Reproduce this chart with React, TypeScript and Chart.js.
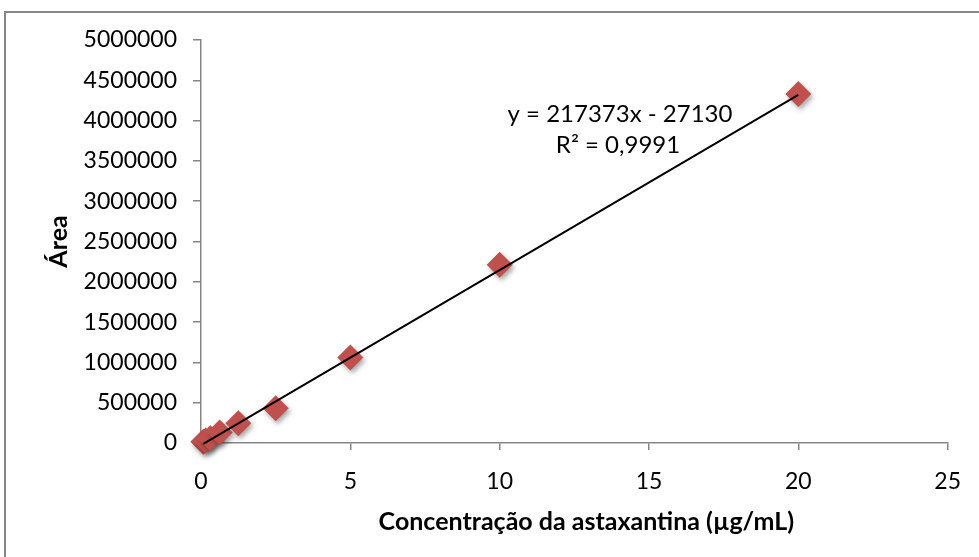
import React, { useEffect, useRef } from "react";
import { Chart, registerables } from "chart.js";

Chart.register(...registerables);

// Data
const concentrations = [0.078, 0.156, 0.3125, 0.625, 1.25, 2.5, 5, 10, 20];
const areas = [15000, 30000, 60000, 130000, 245000, 430000, 1060000, 2210000, 4330000];
const trendSlope = 217373;
const trendIntercept = -27130;
const equationLines = ["y = 217373x - 27130", "R² = 0,9991"];
const xTitle = "Concentração da astaxantina (µg/mL)";
const yTitle = "Área";

const FONT = "Lato, 'Open Sans', sans-serif";

export default function App() {
  const ref = useRef<HTMLCanvasElement | null>(null);

  useEffect(() => {
    document.body.style.margin = "0";
    const canvas = ref.current;
    if (!canvas) return;

    const xMin = concentrations[0];
    const xMax = concentrations[concentrations.length - 1];
    const trend = [
      { x: xMin, y: trendSlope * xMin + trendIntercept },
      { x: xMax, y: trendSlope * xMax + trendIntercept },
    ];

    const decor = {
      id: "decor",
      beforeDraw(chart: any) {
        const ctx = chart.ctx;
        ctx.save();
        ctx.fillStyle = "#ffffff";
        ctx.fillRect(0, 0, chart.width, chart.height);
        ctx.strokeStyle = "#868686";
        ctx.lineWidth = 2;
        ctx.strokeRect(5, 12, chart.width + 20, chart.height + 20);
        ctx.restore();
      },
      beforeDatasetDraw(chart: any, args: any) {
        if (args.index === 1) {
          const ctx = chart.ctx;
          ctx.save();
          ctx.shadowColor = "rgba(0,0,0,0.35)";
          ctx.shadowBlur = 5;
          ctx.shadowOffsetX = 2;
          ctx.shadowOffsetY = 3;
        }
      },
      afterDatasetDraw(chart: any, args: any) {
        if (args.index === 1) chart.ctx.restore();
      },
      afterDraw(chart: any) {
        const ctx = chart.ctx;
        const xs = chart.scales.x;
        ctx.save();
        ctx.fillStyle = "#000";
        // equation
        ctx.font = `24px ${FONT}`;
        ctx.textAlign = "center";
        ctx.textBaseline = "middle";
        ctx.fillText(equationLines[0], 620, 114);
        ctx.fillText(equationLines[1], 618, 145);
        // x title
        ctx.font = `bold 25px ${FONT}`;
        ctx.fillText(xTitle, (xs.left + xs.right) / 2 + 12, 522);
        // y title
        ctx.translate(59, (chart.chartArea.top + chart.chartArea.bottom) / 2);
        ctx.rotate(-Math.PI / 2);
        ctx.fillText(yTitle, 0, 0);
        ctx.restore();
      },
    };

    const chart = new Chart(canvas, {
      type: "scatter",
      data: {
        datasets: [
          {
            type: "line",
            label: "trend",
            data: trend,
            borderColor: "#000000",
            borderWidth: 2,
            pointRadius: 0,
            fill: false,
            clip: false,
            order: 0,
          },
          {
            label: "Área",
            data: concentrations.map((c, i) => ({ x: c, y: areas[i] })),
            pointStyle: "rectRot",
            pointRadius: 13,
            backgroundColor: "#C0504D",
            borderColor: "#C0504D",
            borderWidth: 0,
            clip: false,
            order: 1,
          },
        ],
      },
      plugins: [decor],
      options: {
        responsive: false,
        animation: false,
        events: [],
        layout: { padding: { left: 0, top: 40, right: 31, bottom: 0 } },
        plugins: {
          legend: { display: false },
          tooltip: { enabled: false },
          title: { display: false },
        },
        scales: {
          x: {
            type: "linear",
            min: 0,
            max: 25,
            ticks: {
              stepSize: 5,
              padding: 18,
              color: "#000",
              font: { family: FONT, size: 23 },
              callback: (v: any) => String(v),
            },
            grid: {
              drawOnChartArea: false,
              drawTicks: true,
              tickLength: 7,
              color: "#868686",
              lineWidth: 1.5,
            },
            border: { color: "#868686", width: 1.5 },
            afterFit(scale: any) {
              scale.height = 114;
            },
          },
          y: {
            type: "linear",
            min: 0,
            max: 5000000,
            ticks: {
              stepSize: 500000,
              padding: 16,
              color: "#000",
              font: { family: FONT, size: 23 },
              callback: (v: any) => String(v),
            },
            grid: {
              drawOnChartArea: false,
              drawTicks: true,
              tickLength: 8,
              color: "#868686",
              lineWidth: 1.5,
            },
            border: { color: "#868686", width: 1.5 },
            afterFit(scale: any) {
              scale.width = 201;
            },
          },
        },
      },
    } as any);

    return () => chart.destroy();
  }, []);

  return (
    <div style={{ width: 979, height: 557 }}>
      <canvas ref={ref} width={979} height={557} style={{ display: "block" }} />
    </div>
  );
}
